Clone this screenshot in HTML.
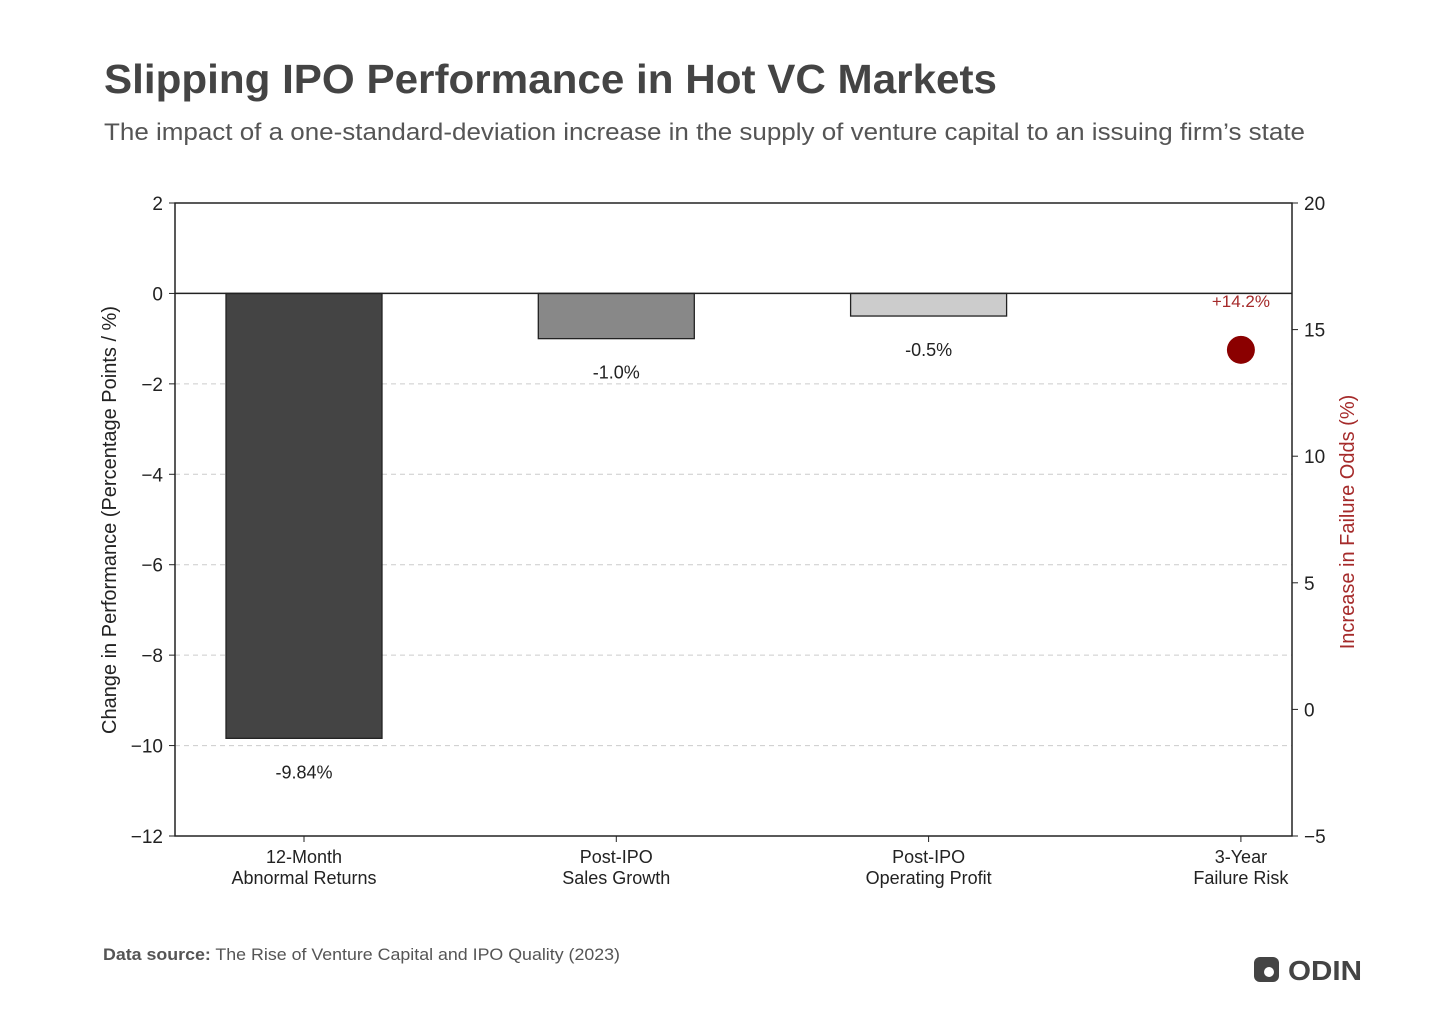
<!DOCTYPE html>
<html><head><meta charset="utf-8"><style>
body{margin:0;background:#fff;font-family:"Liberation Sans",sans-serif;}
svg text{font-family:"Liberation Sans",sans-serif;}
</style></head><body>
<svg id="c" width="1456" height="1028" xmlns="http://www.w3.org/2000/svg">
<text x="104" y="93" font-size="41" font-weight="bold" fill="#444" textLength="893" lengthAdjust="spacingAndGlyphs">Slipping IPO Performance in Hot VC Markets</text>
<text x="104" y="140" font-size="24" fill="#555" textLength="1201" lengthAdjust="spacingAndGlyphs">The impact of a one-standard-deviation increase in the supply of venture capital to an issuing firm’s state</text>
<g id="plot"></g>
<text x="103" y="960" font-size="17" fill="#555" textLength="517" lengthAdjust="spacingAndGlyphs"><tspan font-weight="bold">Data source:</tspan> The Rise of Venture Capital and IPO Quality (2023)</text>
<g>
<rect x="1254" y="957" width="25" height="25" rx="6" fill="#444"/>
<circle cx="1269" cy="972" r="5" fill="#fff"/>
<text x="1288" y="980" font-size="28" font-weight="bold" fill="#444" textLength="74" lengthAdjust="spacingAndGlyphs">ODIN</text>
</g>
</svg>
<script>
const categories=["12-Month|Abnormal Returns","Post-IPO|Sales Growth","Post-IPO|Operating Profit","3-Year|Failure Risk"];
const barValues=[-9.84,-1.0,-0.5];
const barLabels=["-9.84%","-1.0%","-0.5%"];
const barColors=["#444444","#888888","#cccccc"];
const failureValue=[14.2];
const failureLabel=["+14.2%"];
const leftTicks=[2,0,-2,-4,-6,-8,-10,-12];
const rightTicks=[20,15,10,5,0,-5];
const NS="http://www.w3.org/2000/svg";
const L=175,R=1292,T=203,B=836;
const yL=v=>T+(2-v)/14*(B-T);
const yR=v=>T+(20-v)/25*(B-T);
const xC=i=>304+i*312.3;
const g=document.getElementById('plot');
function el(tag,at,txt){const e=document.createElementNS(NS,tag);for(const k in at)e.setAttribute(k,at[k]);if(txt!==undefined)e.textContent=txt;g.appendChild(e);return e;}
[-2,-4,-6,-8,-10].forEach(v=>{const e=el('line',{x1:L,x2:R,y1:yL(v),y2:yL(v),stroke:'#ccc','stroke-dasharray':'5,4'});

});
barValues.forEach((v,i)=>{const y0=yL(0),y1=yL(v);
const r=el('rect',{x:xC(i)-78,y:y0,width:156,height:y1-y0,fill:barColors[i],stroke:'#222','stroke-width':1.3});


const t=el('text',{x:xC(i),y:y1+40,'font-size':18,'text-anchor':'middle',fill:'#222'},barLabels[i]);

});
el('line',{x1:L,x2:R,y1:yL(0),y2:yL(0),stroke:'#222','stroke-width':1.5});
const dot=el('circle',{cx:xC(3),cy:yR(failureValue[0]),r:14,fill:'#8b0000'});


const fl=el('text',{x:xC(3),y:yR(failureValue[0])-43,'font-size':17,'text-anchor':'middle',fill:'#a52a2a'},failureLabel[0]);


const fr=el('rect',{x:L,y:T,width:R-L,height:B-T,fill:'none',stroke:'#222','stroke-width':1.5});


leftTicks.forEach(v=>{el('line',{x1:L-6,x2:L,y1:yL(v),y2:yL(v),stroke:'#222'});
const t=el('text',{x:L-12,y:yL(v)+7,'font-size':19,'text-anchor':'end',fill:'#222'},v<0?'\u2212'+(-v):v);

});
rightTicks.forEach(v=>{el('line',{x1:R,x2:R+6,y1:yR(v),y2:yR(v),stroke:'#222'});
const t=el('text',{x:R+12,y:yR(v)+7,'font-size':19,fill:'#222'},v<0?'\u2212'+(-v):v);

});
categories.forEach((c,i)=>{el('line',{x1:xC(i),x2:xC(i),y1:B,y2:B+6,stroke:'#222'});
const p=c.split('|');
const t=el('text',{x:xC(i),y:863,'font-size':18,'text-anchor':'middle',fill:'#222'},p[0]);


const t2=el('text',{x:xC(i),y:884,'font-size':18,'text-anchor':'middle',fill:'#222'},p[1]);

});
const yt=el('text',{x:0,y:0,'font-size':20,'text-anchor':'middle',fill:'#222',transform:'translate(116,520) rotate(-90)'},'Change in Performance (Percentage Points / %)');


const yt2=el('text',{x:0,y:0,'font-size':20,'text-anchor':'middle',fill:'#a52a2a',transform:'translate(1354,522) rotate(-90)'},'Increase in Failure Odds (%)');


</script>
</body></html>
